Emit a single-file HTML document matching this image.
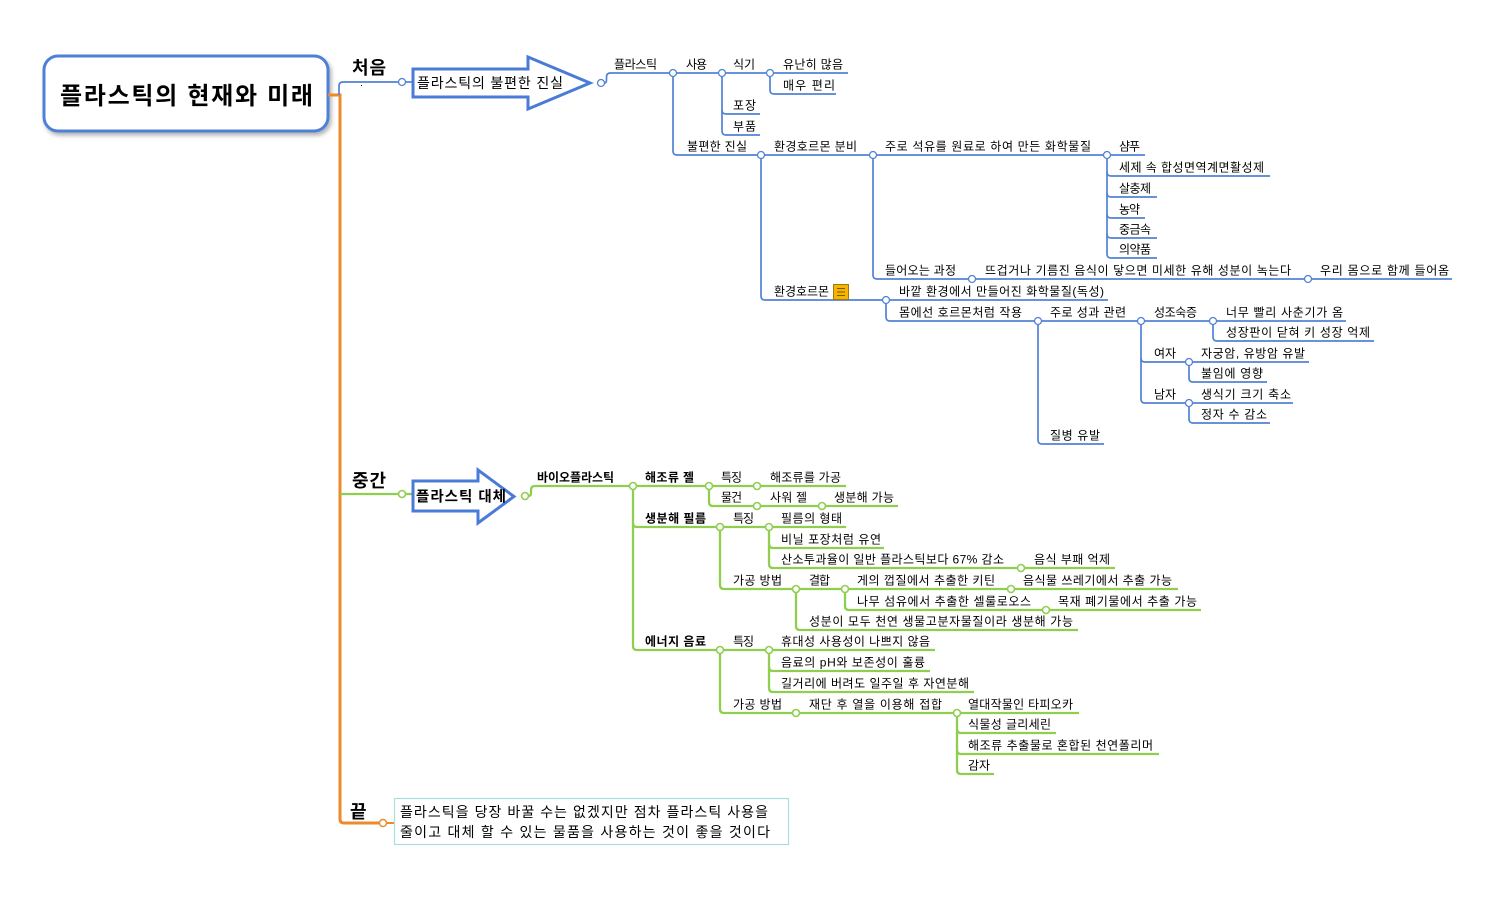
<!DOCTYPE html>
<html><head><meta charset="utf-8"><style>
html,body{margin:0;padding:0;background:#fff;}
svg{display:block;}
text{font-family:"Liberation Sans","Noto Sans CJK KR",sans-serif;fill:#000;}
.t{font-size:12px;}
.b{font-weight:bold;}
.lb path{fill:none;stroke:#5282d6;stroke-width:1.7;}
.lg path{fill:none;stroke:#8fce4f;stroke-width:2.3;}
.cb{fill:#fff;stroke:#5282d6;stroke-width:1.3;}
.cg{fill:#fff;stroke:#8fce4f;stroke-width:1.6;}
</style></head><body>
<svg width="1500" height="900" viewBox="0 0 1500 900" xmlns="http://www.w3.org/2000/svg">
<defs>
<filter id="sh" x="-10%" y="-10%" width="130%" height="140%"><feDropShadow dx="2" dy="3" stdDeviation="2" flood-color="#000" flood-opacity="0.3"/></filter>
</defs>
<rect width="1500" height="900" fill="#fff"/>

<!-- root -->
<rect x="44" y="56" width="284" height="75" rx="14" ry="14" fill="#fff" stroke="#4f80d8" stroke-width="3" filter="url(#sh)"/>
<text x="60" y="104" font-size="24" font-weight="bold" textLength="253" lengthAdjust="spacing">플라스틱의 현재와 미래</text>

<!-- orange main -->
<path d="M328,95 H340 V819 Q340,823 344,823 H379.5" fill="none" stroke="#ec8a2c" stroke-width="3"/>
<circle cx="383" cy="823" r="3.5" fill="#fff" stroke="#ec8a2c" stroke-width="1.4"/>
<path d="M386.5,823 H394" fill="none" stroke="#ec8a2c" stroke-width="2"/>

<!-- level 1 labels -->
<text x="352" y="74" font-size="18" font-weight="bold" textLength="34" lengthAdjust="spacing">처음</text>
<text x="352" y="487" font-size="18" font-weight="bold" textLength="34" lengthAdjust="spacing">중간</text>
<text x="350" y="818" font-size="18" font-weight="bold">끝</text>
<rect x="361" y="85" width="1" height="1" fill="#000"/>

<!-- BLUE -->
<g class="lb">
<path d="M339,95 V86 Q339,82 343,82 H398.5"/>
<path d="M405.5,82 H413"/>
<path d="M604.5,83 Q606.5,83 606.5,80 V77 Q606.5,73 610.5,73 H669.5"/>
<path d="M676.5,73 H718.5"/>
<path d="M725.5,73 H766.5"/>
<path d="M773.5,73 H848"/>
<path d="M770,76.5 V90 Q770,94 774,94 H836"/>
<path d="M722,76.5 V110 Q722,114 726,114 H760"/>
<path d="M722,110 V131 Q722,135 726,135 H760"/>
<path d="M673,76.5 V151 Q673,155 677,155 H757.5"/>
<path d="M764.5,155 H869.5"/>
<path d="M876.5,155 H1103.5"/>
<path d="M1110.5,155 H1145"/>
<path d="M1107,158.5 V172 Q1107,176 1111,176 H1270"/>
<path d="M1107,172 V193 Q1107,197 1111,197 H1157"/>
<path d="M1107,193 V214 Q1107,218 1111,218 H1145"/>
<path d="M1107,214 V234 Q1107,238 1111,238 H1157"/>
<path d="M1107,234 V254 Q1107,258 1111,258 H1157"/>
<path d="M873,158.5 V275 Q873,279 877,279 H968.5"/>
<path d="M975.5,279 H1304.5"/>
<path d="M1311.5,279 H1452"/>
<path d="M761,158.5 V296 Q761,300 765,300 H882.5"/>
<path d="M889.5,300 H1108"/>
<path d="M886,303.5 V317 Q886,321 890,321 H1034.5"/>
<path d="M1041.5,321 H1137.5"/>
<path d="M1144.5,321 H1209.5"/>
<path d="M1216.5,321 H1346"/>
<path d="M1213,324.5 V337 Q1213,341 1217,341 H1374"/>
<path d="M1141,324.5 V358 Q1141,362 1145,362 H1185.5"/>
<path d="M1192.5,362 H1309"/>
<path d="M1189,365.5 V378 Q1189,382 1193,382 H1267"/>
<path d="M1141,358 V399 Q1141,403 1145,403 H1185.5"/>
<path d="M1192.5,403 H1293"/>
<path d="M1189,406.5 V419 Q1189,423 1193,423 H1270"/>
<path d="M1038,324.5 V440 Q1038,444 1042,444 H1104"/>
</g>
<circle class="cb" cx="402" cy="82" r="3.5"/>
<polygon points="413,69 528,69 528,57 590,83 528,109 528,97 413,97" fill="#fff" stroke="#4a7bd6" stroke-width="3" stroke-linejoin="miter"/>
<text x="417" y="88" font-size="14" textLength="146" lengthAdjust="spacing">플라스틱의 불편한 진실</text>
<circle class="cb" cx="601" cy="83" r="3.5"/>
<circle class="cb" cx="673" cy="73" r="3.5"/>
<circle class="cb" cx="722" cy="73" r="3.5"/>
<circle class="cb" cx="770" cy="73" r="3.5"/>
<circle class="cb" cx="761" cy="155" r="3.5"/>
<circle class="cb" cx="873" cy="155" r="3.5"/>
<circle class="cb" cx="1107" cy="155" r="3.5"/>
<circle class="cb" cx="972" cy="279" r="3.5"/>
<circle class="cb" cx="1308" cy="279" r="3.5"/>
<circle class="cb" cx="886" cy="300" r="3.5"/>
<circle class="cb" cx="1038" cy="321" r="3.5"/>
<circle class="cb" cx="1141" cy="321" r="3.5"/>
<circle class="cb" cx="1213" cy="321" r="3.5"/>
<circle class="cb" cx="1189" cy="362" r="3.5"/>
<circle class="cb" cx="1189" cy="403" r="3.5"/>

<g class="t">
<text x="614" y="68.5" textLength="43" lengthAdjust="spacing">플라스틱</text>
<text x="686" y="68.5" textLength="21" lengthAdjust="spacing">사용</text>
<text x="733" y="68.5" textLength="22" lengthAdjust="spacing">식기</text>
<text x="783" y="68.5" textLength="60" lengthAdjust="spacing">유난히 많음</text>
<text x="783" y="89.5" textLength="52" lengthAdjust="spacing">매우 편리</text>
<text x="733" y="109.5" textLength="23" lengthAdjust="spacing">포장</text>
<text x="733" y="130.5" textLength="23" lengthAdjust="spacing">부품</text>
<text x="687" y="150.5" textLength="60" lengthAdjust="spacing">불편한 진실</text>
<text x="774" y="150.5" textLength="83" lengthAdjust="spacing">환경호르몬 분비</text>
<text x="885" y="150.5" textLength="206" lengthAdjust="spacing">주로 석유를 원료로 하여 만든 화학물질</text>
<text x="1119" y="150.5" textLength="21" lengthAdjust="spacing">샴푸</text>
<text x="1119" y="171.5" textLength="145" lengthAdjust="spacing">세제 속 합성면역계면활성제</text>
<text x="1119" y="192.5" textLength="32" lengthAdjust="spacing">살충제</text>
<text x="1119" y="213.5" textLength="21" lengthAdjust="spacing">농약</text>
<text x="1119" y="233.5" textLength="32" lengthAdjust="spacing">중금속</text>
<text x="1119" y="253.5" textLength="32" lengthAdjust="spacing">의약품</text>
<text x="885" y="274.5" textLength="71" lengthAdjust="spacing">들어오는 과정</text>
<text x="985" y="274.5" textLength="306" lengthAdjust="spacing">뜨겁거나 기름진 음식이 닿으면 미세한 유해 성분이 녹는다</text>
<text x="1320" y="274.5" textLength="129" lengthAdjust="spacing">우리 몸으로 함께 들어옴</text>
<text x="774" y="295.5" textLength="55" lengthAdjust="spacing">환경호르몬</text>
<text x="899" y="295.5" textLength="205" lengthAdjust="spacing">바깥 환경에서 만들어진 화학물질(독성)</text>
<text x="899" y="316.5" textLength="123" lengthAdjust="spacing">몸에선 호르몬처럼 작용</text>
<text x="1050" y="316.5" textLength="76" lengthAdjust="spacing">주로 성과 관련</text>
<text x="1154" y="316.5" textLength="43" lengthAdjust="spacing">성조숙증</text>
<text x="1226" y="316.5" textLength="117" lengthAdjust="spacing">너무 빨리 사춘기가 옴</text>
<text x="1226" y="336.5" textLength="144" lengthAdjust="spacing">성장판이 닫혀 키 성장 억제</text>
<text x="1154" y="357.5" textLength="22" lengthAdjust="spacing">여자</text>
<text x="1201" y="357.5" textLength="104" lengthAdjust="spacing">자궁암, 유방암 유발</text>
<text x="1201" y="377.5" textLength="62" lengthAdjust="spacing">불임에 영향</text>
<text x="1154" y="398.5" textLength="22" lengthAdjust="spacing">남자</text>
<text x="1201" y="398.5" textLength="90" lengthAdjust="spacing">생식기 크기 축소</text>
<text x="1201" y="418.5" textLength="66" lengthAdjust="spacing">정자 수 감소</text>
<text x="1050" y="439.5" textLength="50" lengthAdjust="spacing">질병 유발</text>
</g>
<!-- note icon -->
<rect x="833.5" y="284.5" width="15" height="15" fill="#f7b500" stroke="#9c7a1c" stroke-width="1"/>
<path d="M837,288.5 H845 M837,292 H845 M837,295.5 H845" stroke="#7a5a00" stroke-width="1" fill="none"/>

<!-- GREEN -->
<g class="lg">
<path d="M340,494 H398.5"/>
<path d="M405.5,494 H413"/>
<path d="M528.5,496 Q531,496 531,493 V490 Q531,486 535,486 H629.5"/>
<path d="M636.5,486 H705.5"/>
<path d="M712.5,486 H753.5"/>
<path d="M760.5,486 H846"/>
<path d="M709,489.5 V502 Q709,506 713,506 H753.5"/>
<path d="M760.5,506 H818.5"/>
<path d="M825.5,506 H898"/>
<path d="M633,489.5 V523 Q633,527 637,527 H716.5"/>
<path d="M723.5,527 H765.5"/>
<path d="M772.5,527 H846"/>
<path d="M769,530.5 V544 Q769,548 773,548 H884"/>
<path d="M769,544 V564 Q769,568 773,568 H1017.5"/>
<path d="M1024.5,568 H1115"/>
<path d="M720,530.5 V585 Q720,589 724,589 H792.5"/>
<path d="M799.5,589 H841.5"/>
<path d="M848.5,589 H1007.5"/>
<path d="M1014.5,589 H1178"/>
<path d="M845,592.5 V606 Q845,610 849,610 H1042.5"/>
<path d="M1049.5,610 H1201"/>
<path d="M796,592.5 V626 Q796,630 800,630 H1078"/>
<path d="M633,523 V646 Q633,650 637,650 H716.5"/>
<path d="M723.5,650 H765.5"/>
<path d="M772.5,650 H935"/>
<path d="M769,653.5 V667 Q769,671 773,671 H930"/>
<path d="M769,667 V688 Q769,692 773,692 H974"/>
<path d="M720,653.5 V709 Q720,713 724,713 H792.5"/>
<path d="M799.5,713 H953.5"/>
<path d="M960.5,713 H1079"/>
<path d="M957,716.5 V729 Q957,733 961,733 H1056"/>
<path d="M957,729 V750 Q957,754 961,754 H1159"/>
<path d="M957,750 V770 Q957,774 961,774 H994"/>
</g>
<circle class="cg" cx="402" cy="494" r="3.5"/>
<polygon points="413,481 478,481 478,470 514,496.5 478,523 478,511 413,511" fill="#fff" stroke="#4a7bd6" stroke-width="3" stroke-linejoin="miter"/>
<text x="416" y="501.5" font-size="14.5" font-weight="bold" textLength="90" lengthAdjust="spacing">플라스틱 대체</text>
<circle class="cg" cx="525" cy="496" r="3.5"/>
<circle class="cg" cx="633" cy="486" r="3.5"/>
<circle class="cg" cx="709" cy="486" r="3.5"/>
<circle class="cg" cx="757" cy="486" r="3.5"/>
<circle class="cg" cx="757" cy="506" r="3.5"/>
<circle class="cg" cx="822" cy="506" r="3.5"/>
<circle class="cg" cx="720" cy="527" r="3.5"/>
<circle class="cg" cx="769" cy="527" r="3.5"/>
<circle class="cg" cx="1021" cy="568" r="3.5"/>
<circle class="cg" cx="796" cy="589" r="3.5"/>
<circle class="cg" cx="845" cy="589" r="3.5"/>
<circle class="cg" cx="1011" cy="589" r="3.5"/>
<circle class="cg" cx="1046" cy="610" r="3.5"/>
<circle class="cg" cx="720" cy="650" r="3.5"/>
<circle class="cg" cx="769" cy="650" r="3.5"/>
<circle class="cg" cx="796" cy="713" r="3.5"/>
<circle class="cg" cx="957" cy="713" r="3.5"/>

<g class="t">
<text class="b" x="537" y="481.5" textLength="77" lengthAdjust="spacing">바이오플라스틱</text>
<text class="b" x="645" y="481.5" textLength="49" lengthAdjust="spacing">해조류 젤</text>
<text x="721" y="481.5" textLength="21" lengthAdjust="spacing">특징</text>
<text x="770" y="481.5" textLength="71" lengthAdjust="spacing">해조류를 가공</text>
<text x="721" y="501.5" textLength="21" lengthAdjust="spacing">물건</text>
<text x="770" y="501.5" textLength="37" lengthAdjust="spacing">사워 젤</text>
<text x="834" y="501.5" textLength="60" lengthAdjust="spacing">생분해 가능</text>
<text class="b" x="645" y="522.5" textLength="61" lengthAdjust="spacing">생분해 필름</text>
<text x="733" y="522.5" textLength="21" lengthAdjust="spacing">특징</text>
<text x="781" y="522.5" textLength="61" lengthAdjust="spacing">필름의 형태</text>
<text x="781" y="543.5" textLength="100" lengthAdjust="spacing">비닐 포장처럼 유연</text>
<text x="781" y="563.5" textLength="223" lengthAdjust="spacing">산소투과율이 일반 플라스틱보다 67% 감소</text>
<text x="1034" y="563.5" textLength="76" lengthAdjust="spacing">음식 부패 억제</text>
<text x="733" y="584.5" textLength="49" lengthAdjust="spacing">가공 방법</text>
<text x="809" y="584.5" textLength="21" lengthAdjust="spacing">결합</text>
<text x="857" y="584.5" textLength="138" lengthAdjust="spacing">게의 껍질에서 추출한 키틴</text>
<text x="1023" y="584.5" textLength="149" lengthAdjust="spacing">음식물 쓰레기에서 추출 가능</text>
<text x="857" y="605.5" textLength="174" lengthAdjust="spacing">나무 섬유에서 추출한 셀룰로오스</text>
<text x="1058" y="605.5" textLength="139" lengthAdjust="spacing">목재 폐기물에서 추출 가능</text>
<text x="809" y="625.5" textLength="264" lengthAdjust="spacing">성분이 모두 천연 생물고분자물질이라 생분해 가능</text>
<text class="b" x="645" y="645.5" textLength="61" lengthAdjust="spacing">에너지 음료</text>
<text x="733" y="645.5" textLength="21" lengthAdjust="spacing">특징</text>
<text x="781" y="645.5" textLength="149" lengthAdjust="spacing">휴대성 사용성이 나쁘지 않음</text>
<text x="781" y="666.5" textLength="144" lengthAdjust="spacing">음료의 pH와 보존성이 훌륭</text>
<text x="781" y="687.5" textLength="188" lengthAdjust="spacing">길거리에 버려도 일주일 후 자연분해</text>
<text x="733" y="708.5" textLength="49" lengthAdjust="spacing">가공 방법</text>
<text x="809" y="708.5" textLength="133" lengthAdjust="spacing">재단 후 열을 이용해 접합</text>
<text x="968" y="708.5" textLength="105" lengthAdjust="spacing">열대작물인 타피오카</text>
<text x="968" y="728.5" textLength="83" lengthAdjust="spacing">식물성 글리세린</text>
<text x="968" y="749.5" textLength="185" lengthAdjust="spacing">해조류 추출물로 혼합된 천연폴리머</text>
<text x="968" y="769.5" textLength="22" lengthAdjust="spacing">감자</text>
</g>

<!-- end box -->
<rect x="394.5" y="798.5" width="394" height="46" fill="#fff" stroke="#a9dedb" stroke-width="1.2"/>
<text x="400" y="817" font-size="14" textLength="368" lengthAdjust="spacing">플라스틱을 당장 바꿀 수는 없겠지만 점차 플라스틱 사용을</text>
<text x="400" y="837" font-size="14" textLength="370" lengthAdjust="spacing">줄이고 대체 할 수 있는 물품을 사용하는 것이 좋을 것이다</text>
</svg>
</body></html>
